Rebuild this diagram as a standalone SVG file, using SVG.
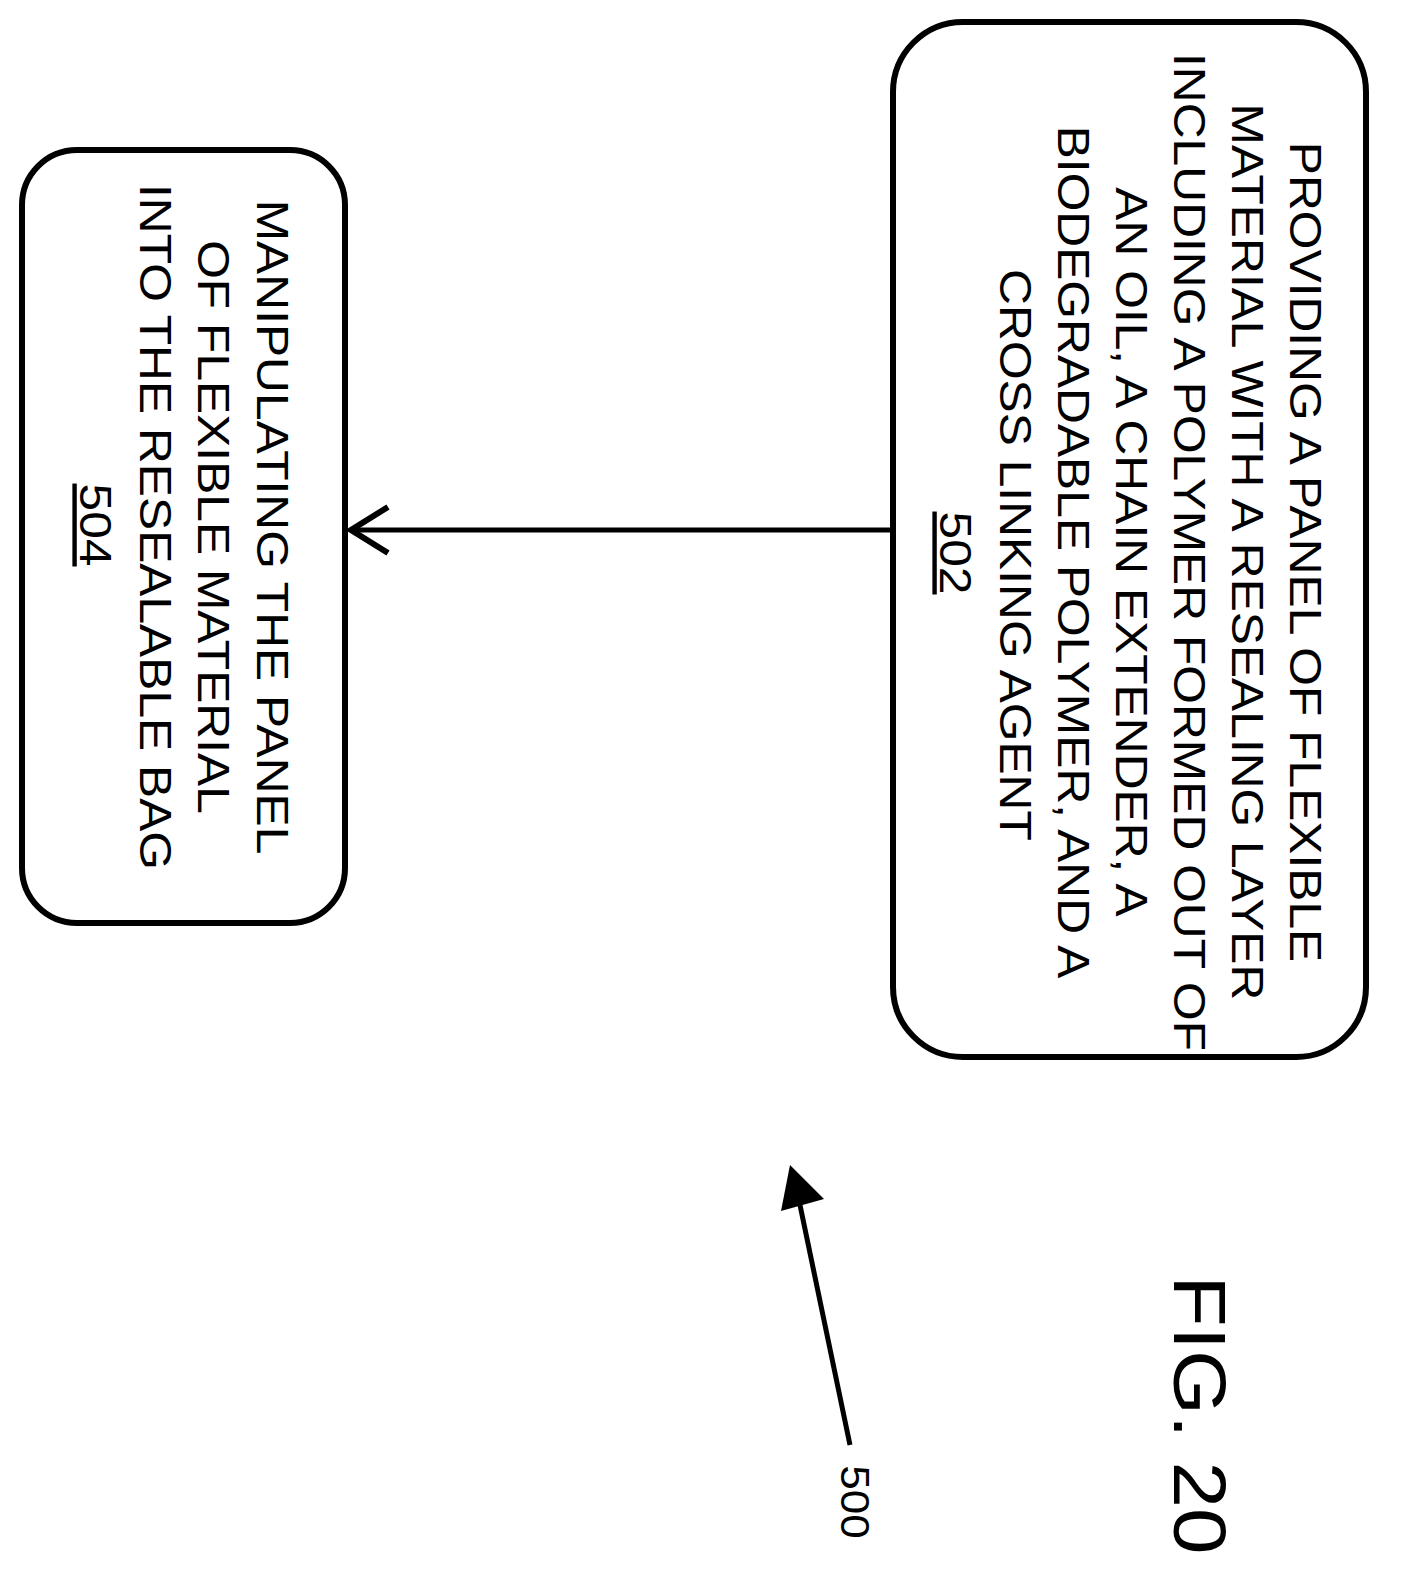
<svg xmlns="http://www.w3.org/2000/svg" width="1406" height="1587" viewBox="0 0 1406 1587">
<style>
.box{fill:#fff;stroke:#000;stroke-width:6}
.t{font-family:"Liberation Sans",Arial,sans-serif;font-size:44px;text-anchor:middle;fill:#000}
</style>
<rect width="1406" height="1587" fill="#fff"/>
<g id="connectors">
<line x1="893" y1="530" x2="350" y2="530" stroke="#000" stroke-width="5"/>
<path d="M388,507 L351,530 L388,553" fill="none" stroke="#000" stroke-width="6"/>
<line x1="850" y1="1445" x2="800" y2="1205" stroke="#000" stroke-width="5"/>
<path d="M781,1211 L790,1165 L824,1199 Z" fill="#000"/>
</g>
<g id="n502">
<rect class="box" x="893" y="22" width="473" height="1035" rx="70"/>
<g class="t">
<text transform="translate(1305,552) rotate(90) scale(1.13,1)" dy="0.35em">PROVIDING A PANEL OF FLEXIBLE</text>
<text transform="translate(1247,552) rotate(90) scale(1.13,1)" dy="0.35em">MATERIAL WITH A RESEALING LAYER</text>
<text transform="translate(1189,552) rotate(90) scale(1.13,1)" dy="0.35em">INCLUDING A POLYMER FORMED OUT OF</text>
<text transform="translate(1131,552) rotate(90) scale(1.13,1)" dy="0.35em">AN OIL, A CHAIN EXTENDER, A</text>
<text transform="translate(1073,552) rotate(90) scale(1.13,1)" dy="0.35em">BIODEGRADABLE POLYMER, AND A</text>
<text transform="translate(1015,555) rotate(90) scale(1.13,1)" dy="0.35em">CROSS LINKING AGENT</text>
<text transform="translate(955,553) rotate(90) scale(1.13,1)" dy="0.35em" text-decoration="underline">502</text>
</g>
</g>
<g id="n504">
<rect class="box" x="22" y="150" width="323" height="773" rx="55"/>
<g class="t">
<text transform="translate(272,527) rotate(90) scale(1.13,1)" dy="0.35em">MANIPULATING THE PANEL</text>
<text transform="translate(213,527) rotate(90) scale(1.13,1)" dy="0.35em">OF FLEXIBLE MATERIAL</text>
<text transform="translate(155,527) rotate(90) scale(1.13,1)" dy="0.35em">INTO THE RESEALABLE BAG</text>
<text transform="translate(95,525) rotate(90) scale(1.13,1)" dy="0.35em" text-decoration="underline">504</text>
</g>
</g>
<text class="t" style="font-size:40px" transform="translate(855,1502) rotate(90) scale(1.1,1)" dy="0.35em">500</text>
<text class="t" style="font-size:74px" transform="translate(1200,1415) rotate(90) scale(1.13,1)" dy="0.35em">FIG. 20</text>
</svg>
